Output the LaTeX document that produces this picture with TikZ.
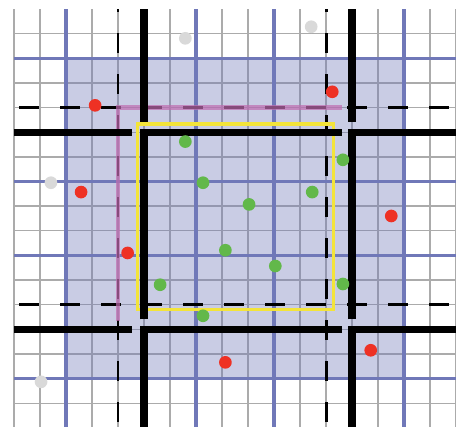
\documentclass[tikz,border=0pt]{standalone}
\usepackage{tikz}
\definecolor{ddBlue}{HTML}{7078B8}
\definecolor{ddGray}{HTML}{ABABAB}
\definecolor{ddPink}{HTML}{C06CB0}
\definecolor{ddYellow}{HTML}{F3E43A}
\definecolor{ddGreen}{HTML}{62B84A}
\definecolor{ddRed}{HTML}{EE3124}
\definecolor{ddSilver}{HTML}{D9D9D9}
\tikzset{
  ddgrid/.style={draw=ddGray,line width=0.8pt},
  ddcoarse/.style={draw=ddBlue,line width=1.8pt},
  ddshade/.style={fill=ddBlue,fill opacity=0.38},
  ddhalo/.style={draw=black,line width=1.7pt,
                 dash pattern=on 0.4cm off 0.42cm},
  ddghost/.style={draw=ddPink,line width=2.5pt,opacity=0.7},
  ddbox/.style={draw=ddYellow,line width=1.8pt},
  ddcut/.style={draw=black,line width=4.2pt},
  ddpt/.style={circle,inner sep=0pt,minimum size=0.254cm},
  ddown/.style={ddpt,fill=ddGreen},
  ddnear/.style={ddpt,fill=ddRed},
  ddfar/.style={ddpt,fill=ddSilver}
}

\begin{document}
\begin{tikzpicture}[x=0.52cm,y=-0.4928cm]
    \useasboundingbox (-0.5385,-0.3653) rectangle (17,16.924);
    \clip (-0.5385,-0.3653) rectangle (17,16.924);

    % fine cells
    \foreach \c in {0,...,17}
      \draw[ddgrid] (\c,0) -- (\c,17);
    \foreach \r in {1,...,17}
      \draw[ddgrid] (0,\r) -- (17,\r);

    % shaded subdomain and coarse cells
    \path[ddshade] (2,2) rectangle (15,15);
    \foreach \k in {2,7,10,15} {
      \draw[ddcoarse] (\k,0) -- (\k,17);
      \draw[ddcoarse] (0,\k) -- (17,\k);
    }

    % halo lines
    \foreach \k in {4,12} {
      \draw[ddhalo,dash phase=0.34cm] (\k,0) -- (\k,17);
      \draw[ddhalo,dash phase=0.72cm] (0,\k) -- (17,\k);
    }
    \draw[ddghost] (12.6,4) -- (4,4) -- (4,12.65);

    % owned block
    \draw[ddbox] (4.74,4.67) rectangle (12.28,12.18);

    % partition cuts
    \foreach \k in {5,13} {
      \draw[ddcut] (\k,0) -- (\k,4.57);
      \draw[ddcut] (0,\k) -- (4.55,\k);
    }
    \draw[ddcut] (5,12.6) -- (5,5) -- (12.6,5);
    \draw[ddcut] (13,12.6) -- (13,5) -- (17.2,5);
    \draw[ddcut] (5,17.2) -- (5,13) -- (12.6,13);
    \draw[ddcut] (13,17.2) -- (13,13) -- (17.2,13);

    % particles
    \foreach \x/\y [count=\i] in {6.59/1.19,11.43/0.72,1.42/7.05,1.04/15.13}
      \node[ddfar] (far\i) at (\x,\y) {};
    \foreach \x/\y [count=\i] in {3.12/3.91,12.24/3.36,2.58/7.43,14.51/8.40,
                                   4.37/9.90,13.72/13.85,8.13/14.34}
      \node[ddnear] (near\i) at (\x,\y) {};
    \foreach \x/\y [count=\i] in {6.59/5.38,12.65/6.12,7.27/7.05,11.47/7.43,
                                   9.04/7.93,8.13/9.79,10.05/10.43,5.62/11.19,
                                   12.65/11.16,7.27/12.45}
      \node[ddown] (own\i) at (\x,\y) {};
  \end{tikzpicture}
\end{document}
